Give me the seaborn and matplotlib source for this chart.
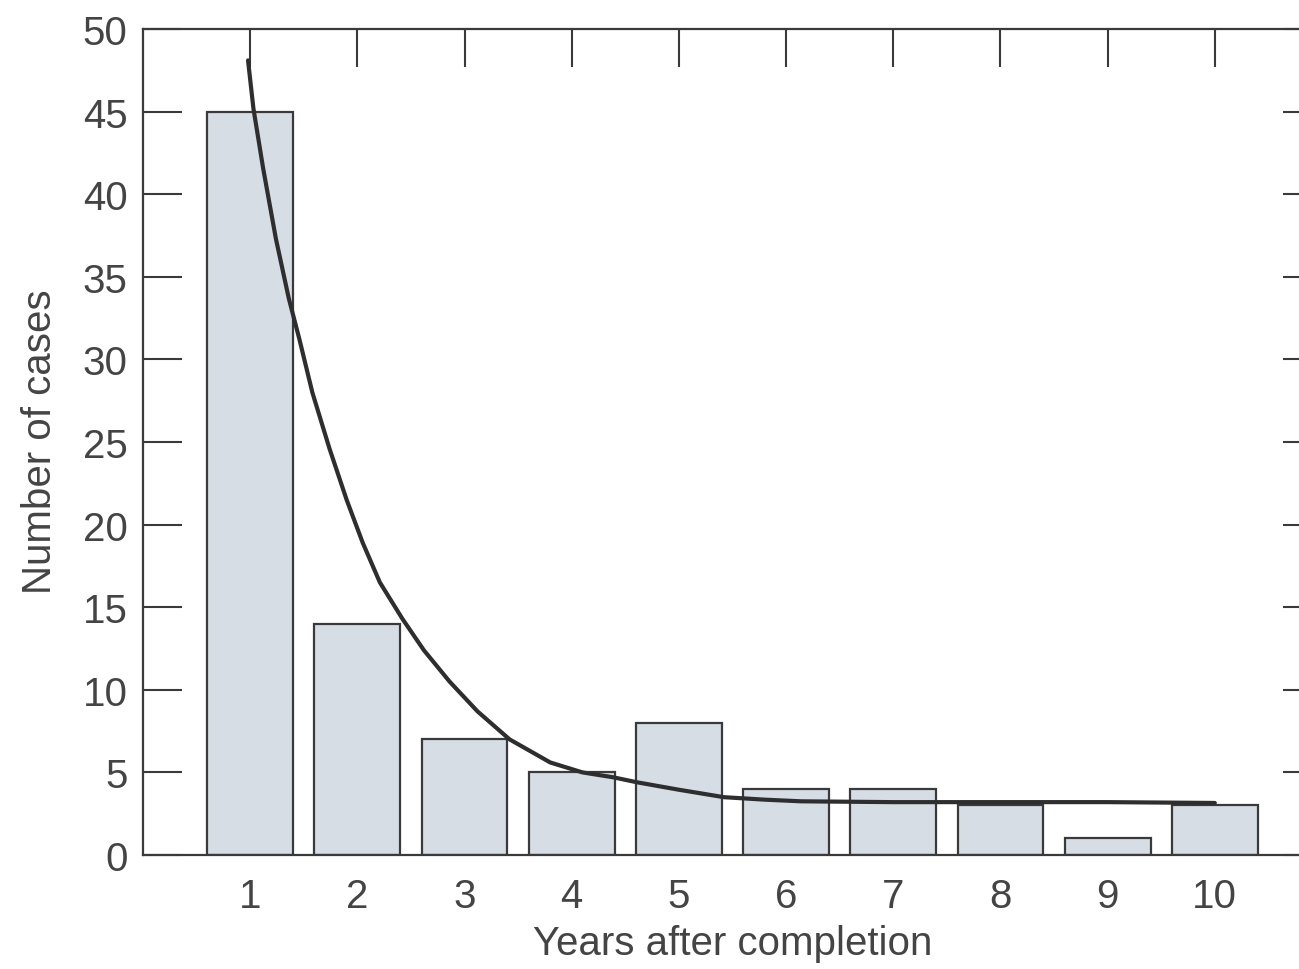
import matplotlib
matplotlib.use("Agg")
import matplotlib.pyplot as plt
import seaborn as sns
import pandas as pd

years = [1, 2, 3, 4, 5, 6, 7, 8, 9, 10]
cases = [45, 14, 7, 5, 8, 4, 4, 3, 1, 3]

curve_x = [0.98, 1.03, 1.12, 1.24, 1.36, 1.46, 1.58, 1.74, 1.90, 2.05, 2.21,
           2.42, 2.62, 2.86, 3.12, 3.42, 3.80, 4.10, 4.39, 4.61, 5.0, 5.42,
           5.8, 6.14, 7.0, 8.0, 9.0, 10.0]
curve_y = [48.1, 45.2, 41.6, 37.3, 33.7, 31.2, 28.0, 24.6, 21.5, 18.9, 16.5,
           14.3, 12.4, 10.5, 8.7, 7.0, 5.6, 5.0, 4.7, 4.4, 3.95, 3.5,
           3.35, 3.25, 3.2, 3.2, 3.2, 3.15]

y_ticks = [0, 5, 10, 15, 20, 25, 30, 35, 40, 45, 50]

sns.set_style("white")
plt.rcParams['font.family'] = ['Liberation Sans', 'DejaVu Sans']

ink = "#3a3a3a"
fig = plt.figure(figsize=(12.99, 9.70), dpi=100)
ax = fig.add_axes([143 / 1299, 114 / 970, 1179 / 1299, 826 / 970])

df = pd.DataFrame({"year": years, "cases": cases})
sns.barplot(data=df, x="year", y="cases", native_scale=True, width=0.8,
            color="#d7dde4", edgecolor=ink, linewidth=1.6, saturation=1,
            ax=ax)
for p in ax.patches:
    p.set_facecolor("#d7dde4")

cdf = pd.DataFrame({"x": curve_x, "y": curve_y})
sns.lineplot(data=cdf, x="x", y="y", color="#2e2e2e", linewidth=3.0, ax=ax,
             sort=False)

ax.set_xlim(0, 11)
ax.set_ylim(0, 50)

ax.set_yticks(y_ticks)
ax.set_yticklabels([str(v) for v in y_ticks])
ax.set_xticks(years)
ax.set_xticklabels([str(v) for v in years])

ax.tick_params(axis="y", which="both", direction="in", length=28, width=1.5,
               color=ink, left=True, right=True, labelleft=True,
               labelright=False, labelsize=29, labelcolor="#444444", pad=11)
ax.tick_params(axis="x", which="both", direction="in", length=27, width=1.5,
               color=ink, top=True, bottom=False, labelbottom=True,
               labeltop=False, labelsize=29, labelcolor="#444444", pad=16)
for spine in ax.spines.values():
    spine.set_visible(True)
    spine.set_color(ink)
    spine.set_linewidth(1.6)

ax.set_xlabel("Years after completion", fontsize=29, color="#444444")
ax.set_ylabel("Number of cases", fontsize=29, color="#444444")
ax.xaxis.set_label_coords((733 - 143) / 1179, -(925 - 856) / 826)
ax.yaxis.set_label_coords(-(143 - 40) / 1179, (856 - 442) / 826)
ax.yaxis.label.set_va("center")

fig.savefig("out.png", dpi=100)
